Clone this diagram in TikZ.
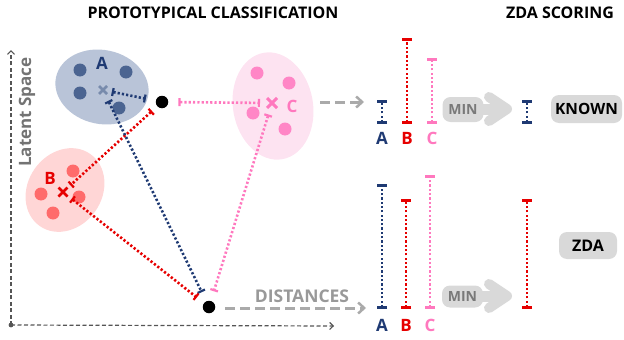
\documentclass[tikz,border=0pt]{standalone}
\usepackage{fontspec}
\setmainfont{Open Sans}
\usetikzlibrary{arrows.meta,shapes.geometric,calc}
\definecolor{navy}{HTML}{1F3A73}
\definecolor{cred}{HTML}{E60000}
\definecolor{cpink}{HTML}{FF78BE}
\definecolor{fillA}{HTML}{B9C4D8}
\definecolor{dotA}{HTML}{4B6491}
\definecolor{fillB}{HTML}{FFD6D6}
\definecolor{dotB}{HTML}{FF6B6B}
\definecolor{fillC}{HTML}{FDE3F1}
\definecolor{dotC}{HTML}{FF86C6}
\definecolor{garrow}{HTML}{AAAAAA}
\definecolor{gbox}{HTML}{D9D9D9}
\definecolor{axisgray}{HTML}{555555}
\tikzset{
  dist/.style={line width=2.6pt, dash pattern=on 2.2pt off 2.1pt, {Bar[width=8pt,line width=2.2pt]}-{Bar[width=8pt,line width=2.2pt]}},
  rbar/.style={line width=2.6pt, dash pattern=on 2.2pt off 2.1pt, {Bar[width=10pt,line width=2.6pt]}-{Bar[width=10pt,line width=2.6pt]}},
  blob/.style={circle, minimum size=13pt, inner sep=0pt},
  pt/.style={circle, fill=black, minimum size=12.5pt, inner sep=0pt},
  title/.style={font=\bfseries\fontsize{16}{18}\selectfont, text=black},
  lab/.style={font=\bfseries\fontsize{17}{19}\selectfont},
  garr/.style={draw=garrow, line width=3pt, dash pattern=on 10pt off 5pt, -{Straight Barb[length=6pt,width=11pt,line width=2.5pt]}},
  gbx/.style={fill=gbox, rounded corners=8pt, inner sep=0pt},
  mintxt/.style={font=\bfseries\fontsize{14}{16}\selectfont, text=gray!95!black},
  axis/.style={draw=axisgray, line width=1.2pt, dash pattern=on 4pt off 2.5pt, -{Straight Barb[length=3.5pt,width=7pt,line width=1.2pt]}},
}
\begin{document}
\begin{tikzpicture}[x=1pt,y=-1pt]
\useasboundingbox (0,0) rectangle (624,340);
% titles
\node[title] (t1) at (213,13) {PROTOTYPICAL CLASSIFICATION};
\node[title] (t2) at (560,13) {ZDA SCORING};
% axes
\coordinate (O) at (11,325);
\coordinate (Ytop) at (11,50);
\coordinate (Xend) at (334,326);
\draw[axis] (O) -- (Ytop);
\draw[axis] (O) -- (Xend);
\fill[axisgray] (O) circle (2.4);
\node[rotate=90, font=\bfseries\fontsize{17}{19}\selectfont, text=gray!90!black] (ls) at (27,112) {Latent Space};
% clusters
\fill[fillA, rotate around={-12:(102,87)}] (102,87) ellipse (47 and 37);
\fill[fillB, rotate around={-35:(65,190)}] (65,190) ellipse (37 and 44);
\fill[fillC, rotate around={10:(273,106)}] (273,106) ellipse (40 and 54);
% A dots
\node[blob, fill=dotA] (a1) at (80,70) {};
\node[blob, fill=dotA] (a2) at (126,72) {};
\node[blob, fill=dotA] (a3) at (80,93) {};
\node[blob, fill=dotA] (a4) at (119,108) {};
\node[lab, text=navy] (la) at (102,63) {A};
% B dots
\node[blob, fill=dotB] (b1) at (73,171) {};
\node[blob, fill=dotB] (b2) at (41,194) {};
\node[blob, fill=dotB] (b3) at (79,197) {};
\node[blob, fill=dotB] (b4) at (53,213) {};
\node[lab, text=cred] (lb) at (50,178) {B};
% C dots
\node[blob, fill=dotC] (c1) at (257,73) {};
\node[blob, fill=dotC] (c2) at (289,83) {};
\node[blob, fill=dotC] (c3) at (253,113) {};
\node[blob, fill=dotC] (c4) at (285,129) {};
\node[lab, text=cpink] (lc) at (292,106) {C};
% centroids
\coordinate (cA) at (103,90);
\coordinate (cB) at (63,192);
\coordinate (cC) at (272,103);
\draw[dotA!75!white, line width=2.6pt] ($(cA)+(-4,-4)$) -- ++(8,8) ($(cA)+(-4,4)$) -- ++(8,-8);
\draw[cred, line width=2.8pt] ($(cB)+(-4.5,-4.5)$) -- ++(9,9) ($(cB)+(-4.5,4.5)$) -- ++(9,-9);
\draw[cpink, line width=3pt] ($(cC)+(-5,-5)$) -- ++(10,10) ($(cC)+(-5,5)$) -- ++(10,-10);
% sample points
\node[pt] (P1) at (162,102) {};
\node[pt] (P2) at (209,307) {};
% distances
\draw[dist, navy, shorten <=9pt, shorten >=10pt] (cA) -- (P1);
\draw[dist, cpink, shorten <=10pt, shorten >=12pt] (P1) -- (cC);
\draw[dist, cred, shorten <=7pt, shorten >=10pt] (P1) -- (cB);
\draw[dist, navy, shorten <=12pt, shorten >=10pt] (cA) -- (P2);
\draw[dist, cred, shorten <=11pt, shorten >=9pt] (cB) -- (P2);
\draw[dist, cpink, shorten <=12pt, shorten >=10pt] (cC) -- (P2);
% gray arrows
\coordinate (g1s) at (320,102);
\coordinate (g1e) at (364,102);
\draw[garr] (g1s) -- (g1e);
\coordinate (g2s) at (225,308);
\coordinate (g2e) at (366,308);
\draw[garr] (g2s) -- (g2e);
\node[font=\bfseries\fontsize{17.5}{19}\selectfont, text=garrow!90!black] (dl) at (302,296) {DISTANCES};
% top distance bars
\draw[rbar, navy] (382,124) -- (382,100);
\draw[rbar, cred] (407,124) -- (407,38);
\draw[rbar, cpink] (432,124) -- (432,58);
\node[lab, text=navy] (ta) at (382,138) {A};
\node[lab, text=cred] (tb) at (407,138) {B};
\node[lab, text=cpink] (tc) at (432,138) {C};
% bottom distance bars
\draw[rbar, navy] (382,309) -- (382,184);
\draw[rbar, cred] (406,309) -- (406,199);
\draw[rbar, cpink] (430,309) -- (430,175);
\node[lab, text=navy] (ba) at (382,325) {A};
\node[lab, text=cred] (bb) at (406,325) {B};
\node[lab, text=cpink] (bc) at (430,325) {C};
% MIN arrows
\draw[gbox, line width=11pt, line cap=round, line join=round] (478,109) -- (505,109);
\draw[gbox, line width=10pt, line cap=round, line join=round] (489,97) -- (507,109) -- (489,121);
\node[gbx, minimum width=41pt, minimum height=25pt] (min1) at (463,109.5) {};
\node[mintxt] at (min1) {MIN};
\draw[gbox, line width=11pt, line cap=round, line join=round] (478,296) -- (505,296);
\draw[gbox, line width=10pt, line cap=round, line join=round] (489,284) -- (507,296) -- (489,308);
\node[gbx, minimum width=41pt, minimum height=22pt] (min2) at (462.5,296.5) {};
\node[mintxt] at (min2) {MIN};
% results
\draw[rbar, navy] (527,124) -- (527,100);
\draw[rbar, cred] (527,309) -- (527,199);
\node[gbx, minimum width=71pt, minimum height=28pt, font=\bfseries\fontsize{15.5}{17}\selectfont] (known) at (586.5,109) {KNOWN};
\node[gbx, minimum width=58pt, minimum height=27pt, font=\bfseries\fontsize{16}{18}\selectfont] (zda) at (588,245.5) {ZDA};
\end{tikzpicture}
\end{document}
